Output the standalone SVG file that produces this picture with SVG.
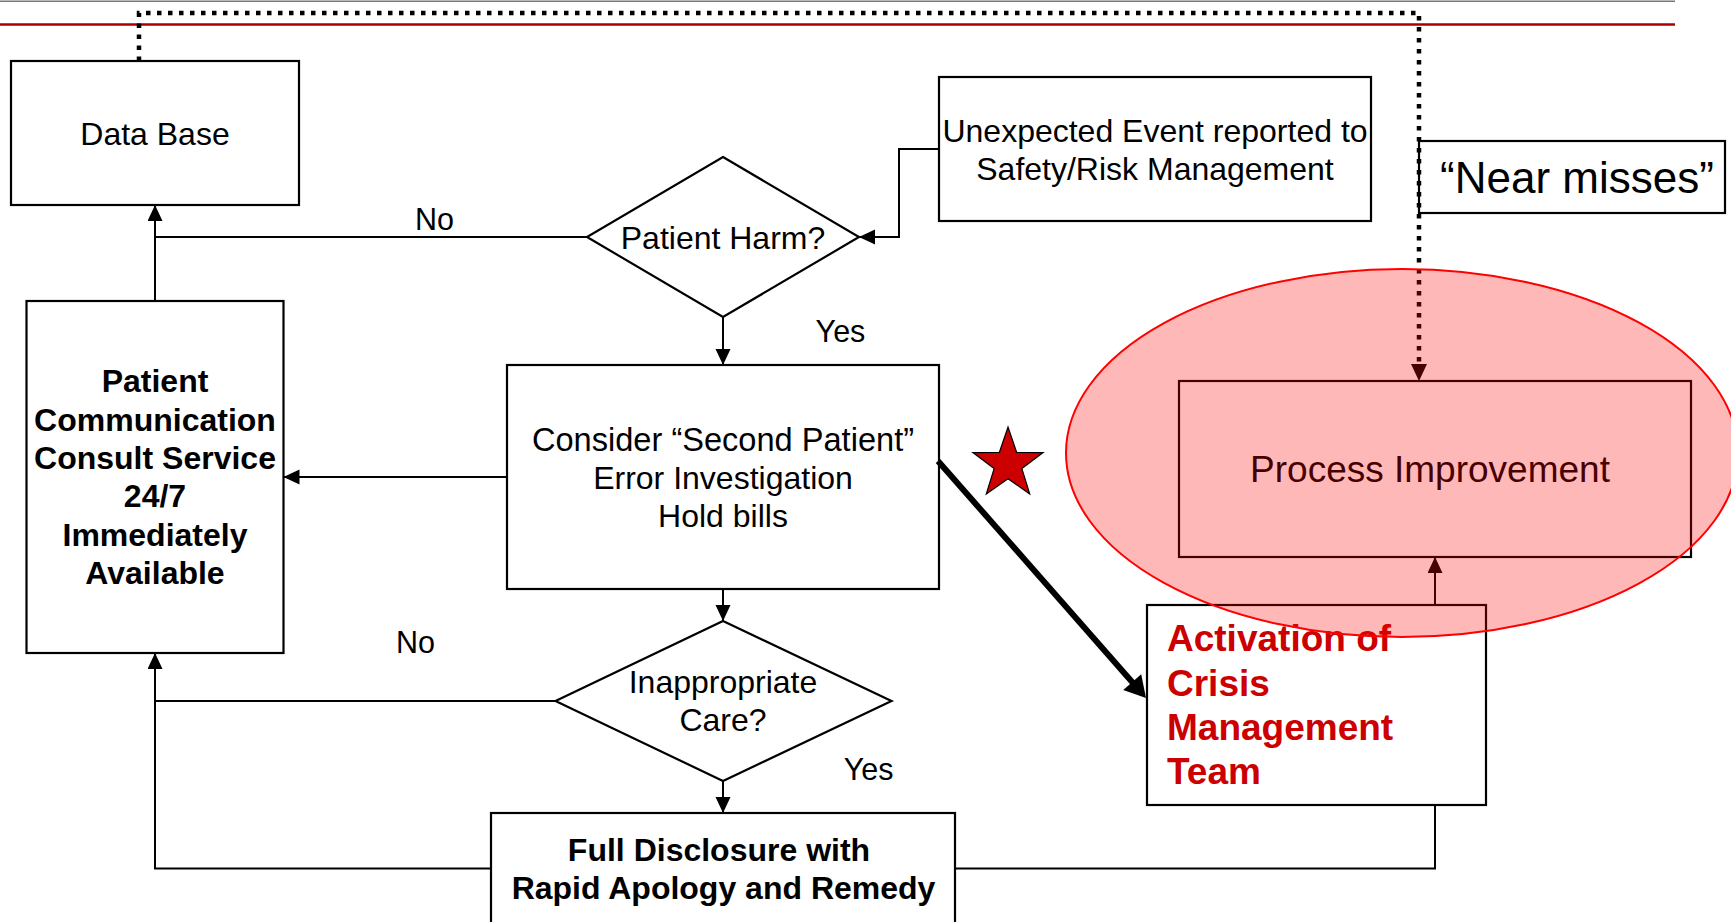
<svg xmlns="http://www.w3.org/2000/svg" width="1731" height="922" viewBox="0 0 1731 922">
<style>
  .box { fill: #ffffff; stroke: #000000; stroke-width: 2.2; }
  .conn { fill: none; stroke: #000000; stroke-width: 2; }
  .t { font-family: "Liberation Sans", Arial, sans-serif; font-size: 32px; fill: #000000; text-anchor: middle; }
  .b { font-weight: bold; }
  .lbl { font-family: "Liberation Sans", Arial, sans-serif; font-size: 30.5px; fill: #000000; text-anchor: middle; }
  .red { font-family: "Liberation Sans", Arial, sans-serif; font-size: 37px; font-weight: bold; fill: #CC0000; }
</style>
<defs>
  <marker id="arr" markerUnits="userSpaceOnUse" markerWidth="16" markerHeight="16" refX="16" refY="7.5" orient="auto">
    <path d="M0,0 L16,7.5 L0,15 z" fill="#000000"/>
  </marker>
</defs>
<rect width="1731" height="922" fill="#ffffff"/>
<line x1="0" y1="1.2" x2="1675" y2="1.2" stroke="#777777" stroke-width="1.6"/>
<line x1="0" y1="24.5" x2="1675" y2="24.5" stroke="#A80000" stroke-width="2.6"/>

<g id="node-database">
  <rect class="box" x="11" y="61" width="288" height="144"/>
  <text class="t" x="155" y="145">Data Base</text>
</g>
<g id="node-unexpected">
  <rect class="box" x="939" y="77" width="432" height="144"/>
  <text class="t" x="1155" y="142">Unexpected Event reported to</text>
  <text class="t" x="1155" y="179.5">Safety/Risk Management</text>
</g>
<g id="node-nearmisses">
  <rect class="box" x="1419" y="141" width="306" height="72"/>
  <text class="t" x="1577" y="193" style="font-size:44px">“Near misses”</text>
</g>
<g id="node-patientharm">
  <polygon class="box" points="723,157 859,237 723,317 587,237"/>
  <text class="t" x="723" y="248.5">Patient Harm?</text>
</g>
<g id="node-patcomm">
  <rect class="box" x="26.5" y="301" width="257" height="352"/>
  <text class="t b" x="155" y="392.3">Patient</text>
  <text class="t b" x="155" y="430.5">Communication</text>
  <text class="t b" x="155" y="469">Consult Service</text>
  <text class="t b" x="155" y="507.3">24/7</text>
  <text class="t b" x="155" y="546">Immediately</text>
  <text class="t b" x="155" y="584.3">Available</text>
</g>
<g id="node-consider">
  <rect class="box" x="507" y="365" width="432" height="224"/>
  <text class="t" x="723" y="450.7" style="font-size:32.6px">Consider “Second Patient”</text>
  <text class="t" x="723" y="488.7">Error Investigation</text>
  <text class="t" x="723" y="526.7">Hold bills</text>
</g>
<g id="node-inappropriate">
  <polygon class="box" points="723,621 891.5,701 723,781 555.5,701"/>
  <text class="t" x="723" y="693.3">Inappropriate</text>
  <text class="t" x="723" y="731">Care?</text>
</g>
<g id="node-disclosure">
  <rect class="box" x="491" y="813" width="464" height="120"/>
  <text class="t b" x="719" y="861">Full Disclosure with</text>
  <text class="t b" x="723.5" y="899">Rapid Apology and Remedy</text>
</g>
<g id="node-process">
  <rect class="box" x="1179" y="381" width="512" height="176"/>
  <text class="t" x="1430" y="482" style="font-size:37px">Process Improvement</text>
</g>
<g id="node-crisis">
  <rect class="box" x="1147" y="605" width="339" height="200"/>
  <text class="red" x="1167" y="651">Activation of</text>
  <text class="red" x="1167" y="695.5">Crisis</text>
  <text class="red" x="1167" y="740">Management</text>
  <text class="red" x="1167" y="784">Team</text>
</g>
<g id="star">
  <polygon points="1008,427 1016.6,452.3 1043.1,452.6 1021.9,468.6 1029.7,494 1008,478.7 986.3,494 994.1,468.6 972.9,452.6 999.4,452.3" fill="#CC0000" stroke="#000000" stroke-width="1.2"/>
</g>

<g id="connectors">
  <path class="conn" d="M939,149 H899 V237 H859" marker-end="url(#arr)"/>
  <path class="conn" d="M587,237 H155 V205" marker-end="url(#arr)"/>
  <path class="conn" d="M155,301 V237"/>
  <path class="conn" d="M723,317 V365" marker-end="url(#arr)"/>
  <path class="conn" d="M507,477 H283.5" marker-end="url(#arr)"/>
  <path class="conn" d="M723,589 V621" marker-end="url(#arr)"/>
  <path class="conn" d="M555.5,701 H155 V653" marker-end="url(#arr)"/>
  <path class="conn" d="M491,868.5 H155 V701"/>
  <path class="conn" d="M723,781 V813" marker-end="url(#arr)"/>
  <path class="conn" d="M955,868.5 H1435 V805"/>
  <path class="conn" d="M1435,605 V557" marker-end="url(#arr)"/>
  <path d="M139,61 V13 H1419 V364" fill="none" stroke="#000000" stroke-width="4.5" stroke-dasharray="4.5 6.5"/>
  <path d="M1411,364 L1427,364 L1419,381 z" fill="#000000"/>
  <line x1="938" y1="461" x2="1133" y2="683" stroke="#000000" stroke-width="6"/>
  <path d="M1146,698 L1123.2,690.1 L1141.2,674.3 z" fill="#000000"/>
  <text class="lbl" x="434.5" y="230">No</text>
  <text class="lbl" x="840.5" y="341.7">Yes</text>
  <text class="lbl" x="415.5" y="652.7">No</text>
  <text class="lbl" x="868.7" y="780">Yes</text>
</g>

<g id="highlight">
  <ellipse cx="1402" cy="453" rx="336" ry="184" fill="#FF0000" fill-opacity="0.28" stroke="#FF0000" stroke-width="2"/>
</g>
</svg>
